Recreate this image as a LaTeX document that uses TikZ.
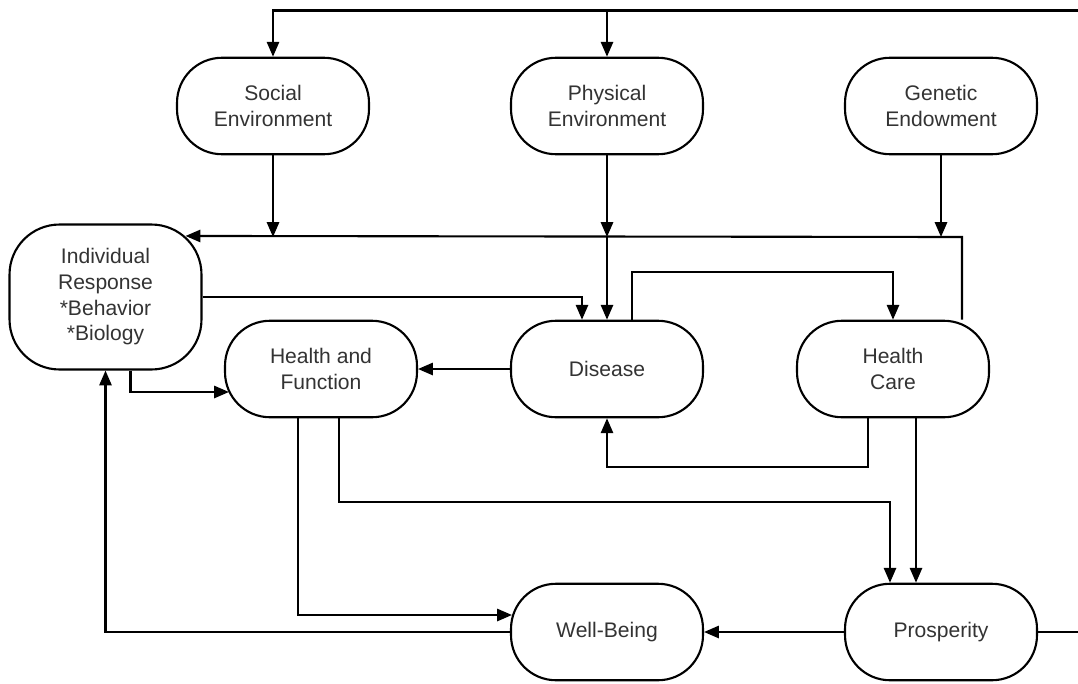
\documentclass[tikz,border=0pt]{standalone}
\usepackage{fontspec}
\setmainfont{Liberation Sans}
\usepackage{xcolor}
\usetikzlibrary{arrows.meta,calc}
\definecolor{labelgray}{HTML}{333333}

\begin{document}
\begin{tikzpicture}[x=0.02cm, y=-0.02cm, line width=1.2pt,
	factor/.style={draw, rounded corners=0.9cm, minimum width=3.84cm, minimum height=1.93cm,
		inner sep=0pt, align=center, text=labelgray, font=\fontsize{12}{14.6}\selectfont},
	link/.style={-{Triangle[length=8.5pt,width=7pt]}}]

\useasboundingbox (0,0) rectangle (1078,683);
\clip (0,0) rectangle (1078,683);

\node[factor] (social) at (273,106) {Social\\Environment};
\node[factor] (physical) at (607,106) {Physical\\Environment};
\node[factor] (genetic) at (941,106) {Genetic\\Endowment};
\node[factor, rounded corners=1cm, minimum height=2.9cm] (indiv) at (105.5,297) {Individual\\Response\\*Behavior\\*Biology};
\node[factor] (hfunc) at (321,369) {Health and\\Function};
\node[factor] (disease) at (607,369) {Disease};
\node[factor] (hcare) at (893,369) {Health\\Care};
\node[factor] (wellb) at (607,632) {Well-Being};
\node[factor] (prosp) at (941,632) {Prosperity};

\coordinate (loopR) at (1090,10.5);
\coordinate (bus) at (962,237);
\coordinate (hcout) at ($(hcare.south)+(23,0)$);

\draw[link] (prosp.east) -| (loopR) -| (social.north);
\draw[link] (physical.north |- loopR) -- (physical.north);

\draw[link] (social.south) -- (social.south |- bus);
\draw[link] (physical.south) -- (physical.south |- bus);
\draw[link] (physical.south |- bus) -- (disease.north);
\draw[link] (genetic.south) -- (genetic.south |- bus);
\draw[link] (hcare.north -| bus) -- (bus) -- ($(indiv.north east)+(-17,12.5)$);

\draw[link] (indiv.east) -| ($(disease.north)+(-25,0)$);
\draw[link] ($(disease.north)+(25,0)$) -- ++(0,-48) -| (hcare.north);
\draw[link] ($(hcare.south)+(-25,0)$) -- ++(0,49) -| (disease.south);
\draw[link] (hcout) -- (hcout |- prosp.north);

\draw[link] (disease.west) -- (hfunc.east);
\draw[link] ($(indiv.south)+(25,0)$) |- ($(hfunc.west)+(5,23)$);
\draw[link] ($(hfunc.south)+(18,0)$) -- ++(0,84) -| ($(prosp.north)+(-51,0)$);
\draw[link] ($(hfunc.south)+(-23,0)$) |- ($(wellb.west)+(2,-17)$);

\draw[link] (prosp.west) -- (wellb.east);
\draw[link] (wellb.west) -| (indiv.south);

\end{tikzpicture}
\end{document}
